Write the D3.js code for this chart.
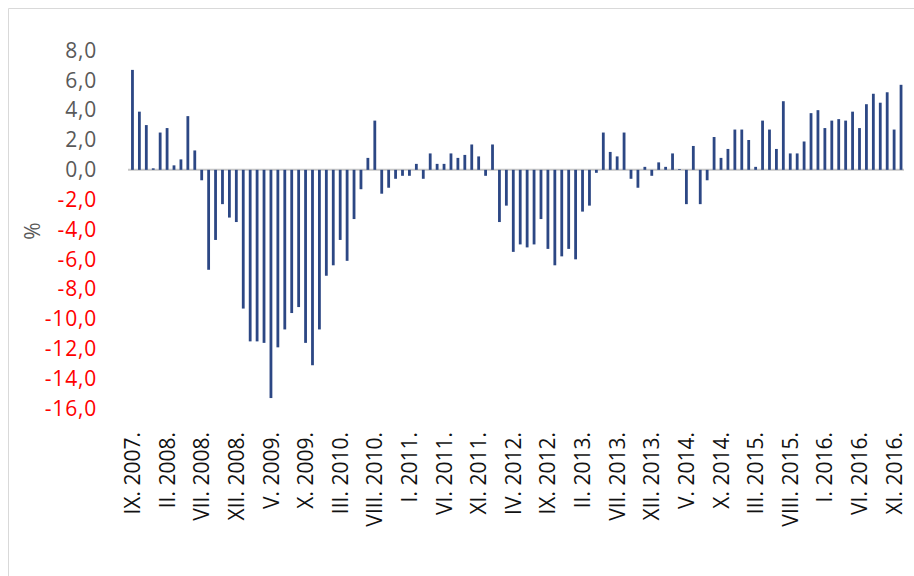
<!DOCTYPE html>
<html>
<head>
<meta charset="utf-8">
<script src="https://cdn.jsdelivr.net/npm/d3@7"></script>
<style>
  html, body { margin: 0; padding: 0; background: #fff; }
  svg { display: block; }
</style>
</head>
<body>
<svg id="chart" width="914" height="576"></svg>
<script>
// Monthly change, IX 2007 – XII 2016 (%)
const romanMonths = ["I", "II", "III", "IV", "V", "VI", "VII", "VIII", "IX", "X", "XI", "XII"];
const startYear = 2007;
const startMonth = 9;   // September
const values = [
  6.7, 3.9, 3.0, 0.1, 2.5, 2.8, 0.3, 0.7, 3.6, 1.3,
  -0.7, -6.7, -4.7, -2.3, -3.2, -3.5, -9.3, -11.5, -11.5, -11.6,
  -15.3, -11.9, -10.7, -9.6, -9.2, -11.6, -13.1, -10.7, -7.1, -6.4,
  -4.7, -6.1, -3.3, -1.3, 0.8, 3.3, -1.6, -1.2, -0.6, -0.4,
  -0.4, 0.4, -0.6, 1.1, 0.4, 0.4, 1.1, 0.8, 1.0, 1.7,
  0.9, -0.4, 1.7, -3.5, -2.4, -5.5, -5.0, -5.2, -5.0, -3.3,
  -5.3, -6.4, -5.8, -5.3, -6.0, -2.8, -2.4, -0.2, 2.5, 1.2,
  0.9, 2.5, -0.6, -1.2, 0.2, -0.4, 0.5, 0.2, 1.1, 0.05,
  -2.3, 1.6, -2.3, -0.7, 2.2, 0.8, 1.4, 2.7, 2.7, 2.0,
  0.2, 3.3, 2.7, 1.4, 4.6, 1.1, 1.1, 1.9, 3.8, 4.0,
  2.8, 3.3, 3.4, 3.3, 3.9, 2.8, 4.4, 5.1, 4.5, 5.2,
  2.7, 5.7
];
const yTicks = [8, 6, 4, 2, 0, -2, -4, -6, -8, -10, -12, -14, -16];
const labelEvery = 5;

// Category names like "IX. 2007."
const categories = values.map((v, i) => {
  const m = (startMonth - 1 + i) % 12;
  const y = startYear + Math.floor((startMonth - 1 + i) / 12);
  return romanMonths[m] + ". " + y + ".";
});

const svg = d3.select("#chart");

// Chart frame
svg.append("line").attr("x1", 8.5).attr("x2", 914).attr("y1", 8.5).attr("y2", 8.5)
  .attr("stroke", "#d9d9d9").attr("stroke-width", 1);
svg.append("line").attr("x1", 8.5).attr("x2", 8.5).attr("y1", 8.5).attr("y2", 576)
  .attr("stroke", "#d9d9d9").attr("stroke-width", 1);

const x = d3.scaleBand().domain(d3.range(values.length)).range([129, 904.5]).paddingInner(0.6).paddingOuter(0.3);
const y = d3.scaleLinear().domain([-16, 8]).range([408.5, 50.5]);

const fmt = v => d3.format(".1f")(v).replace(".", ",").replace("−", "-");

// Y-axis tick labels
const yAxis = d3.axisLeft(y).tickValues(yTicks).tickSize(0).tickPadding(0).tickFormat(fmt);
const gy = svg.append("g").attr("transform", "translate(97,0)").call(yAxis);
gy.select(".domain").remove();
gy.selectAll("text")
  .attr("font-family", "'Open Sans', sans-serif")
  .attr("font-size", 21)
  .attr("letter-spacing", "0.8px")
  .attr("fill", d => d < 0 ? "#ff0000" : "#595959");

// Axis title
svg.append("text")
  .attr("transform", "translate(40,231) rotate(-90)")
  .attr("text-anchor", "middle")
  .attr("font-family", "'Open Sans', sans-serif")
  .attr("font-size", 21)
  .attr("fill", "#595959")
  .text("%");

// Zero line
svg.append("line")
  .attr("x1", 128).attr("x2", 904)
  .attr("y1", y(0)).attr("y2", y(0))
  .attr("stroke", "#c6c6c6").attr("stroke-width", 2);

// Bars
svg.append("g").selectAll("rect").data(values).join("rect")
  .attr("x", (d, i) => x(i) + x.bandwidth() / 2 - 1.4)
  .attr("width", 2.8)
  .attr("y", d => Math.min(y(d), y(0)))
  .attr("height", d => Math.abs(y(d) - y(0)))
  .attr("fill", "#2c4784");

// Category labels every fifth month
const xAxis = d3.axisBottom(x)
  .tickValues(d3.range(0, values.length, labelEvery))
  .tickSize(0).tickPadding(0)
  .tickFormat(i => categories[i]);
const gx = svg.append("g").attr("transform", "translate(0,432)").call(xAxis);
gx.select(".domain").remove();
gx.selectAll("text")
  .attr("transform", "rotate(-90)")
  .attr("x", 0).attr("y", 0).attr("dy", "0.36em")
  .attr("text-anchor", "end")
  .attr("font-family", "'Open Sans', sans-serif")
  .attr("font-size", 21)
  .attr("fill", "#111");
</script>
</body>
</html>
